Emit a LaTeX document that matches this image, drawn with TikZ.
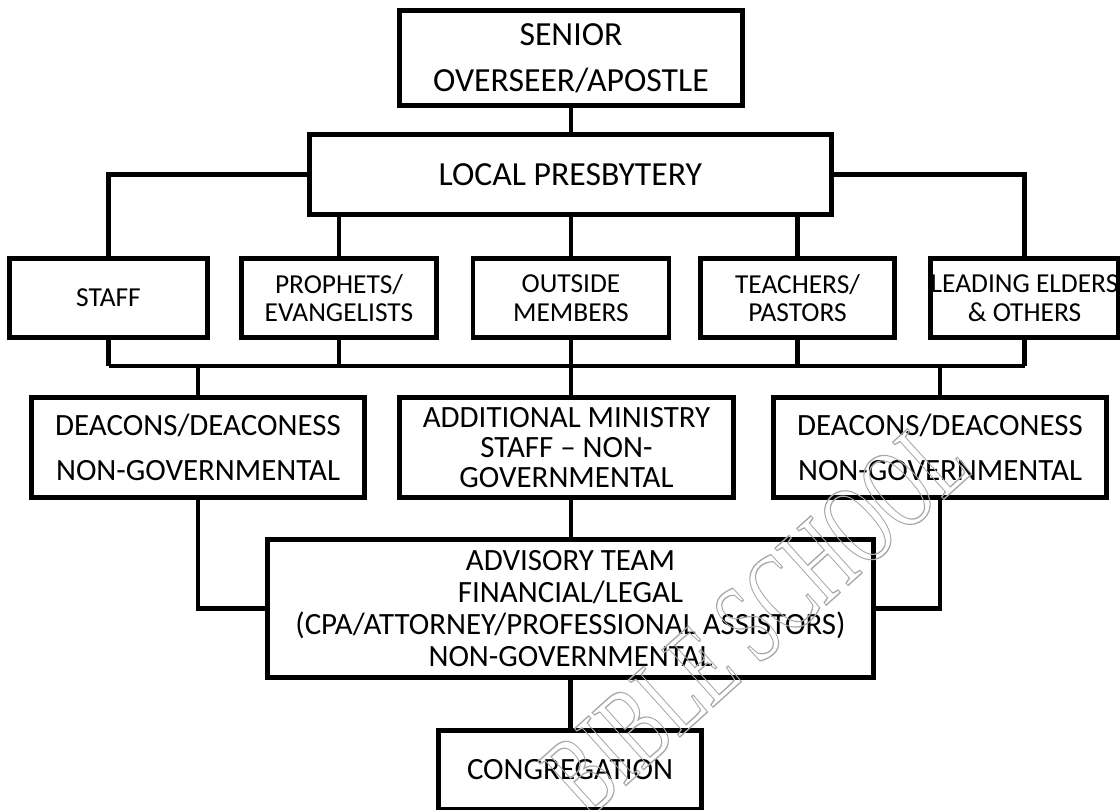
\documentclass[tikz,border=0pt]{standalone}
\usepackage{fontspec}
\setmainfont{Carlito}
\newfontfamily\stampfont{Liberation Serif}
\usepackage{xcolor}
\usepackage{tikz}
\usetikzlibrary{positioning,calc}
\definecolor{inkblack}{HTML}{000000}
\definecolor{stampgray}{HTML}{A8A8A8}
\tikzset{
  orgbox/.style={draw=inkblack, line width=3.5pt, fill=white, align=center, inner sep=0pt},
  headbox/.style={orgbox, font=\fontsize{24}{33}\selectfont, minimum height=20mm},
  unitbox/.style={orgbox, font=\fontsize{19.5}{20.5}\selectfont, minimum height=19.75mm},
  groupbox/.style={orgbox, font=\fontsize{22}{32}\selectfont, minimum height=25mm},
  link/.style={draw=inkblack, line width=3.2pt},
  buslink/.style={draw=inkblack, line width=2.2pt}
}

\begin{document}
\begin{tikzpicture}
  \useasboundingbox (0,0) rectangle (28,20.225);

  \node[headbox, minimum width=85.75mm, minimum height=23.75mm] (senior) at (14.275,18.775) {SENIOR\\OVERSEER/APOSTLE};
  \node[headbox, minimum width=130.5mm] (pres) at (14.26,15.86) {LOCAL PRESBYTERY};

  \node[unitbox, minimum width=49.5mm] (staff) at (2.7125,12.775) {STAFF};
  \node[unitbox, minimum width=48.75mm] (proph) at (8.475,12.775) {PROPHETS/\\EVANGELISTS};
  \node[unitbox, minimum width=49mm] (outside) at (14.275,12.775) {OUTSIDE\\MEMBERS};
  \node[unitbox, minimum width=48.5mm] (teach) at (19.9375,12.775) {TEACHERS/\\PASTORS};
  \node[unitbox, minimum width=46.5mm] (lead) at (25.6125,12.775) {LEADING ELDERS\\\& OTHERS};
  \coordinate (bus) at (14.275,11.075);

  \node[groupbox, minimum width=83.25mm] (ldea) at (4.95,9.0375) {DEACONS/DEACONESS\\NON-GOVERNMENTAL};
  \node[groupbox, minimum width=83.5mm, font=\fontsize{22}{21.5}\selectfont] (add) at (14.1625,9.0375) {ADDITIONAL MINISTRY\\STAFF -- NON-\\GOVERNMENTAL};
  \node[groupbox, minimum width=83.25mm] (rdea) at (23.5,9.0375) {DEACONS/DEACONESS\\NON-GOVERNMENTAL};

  \node[groupbox, minimum width=151.5mm, minimum height=34.5mm, font=\fontsize{22}{22.7}\selectfont] (adv) at (14.2625,5.0125) {ADVISORY TEAM\\FINANCIAL/LEGAL\\(CPA/ATTORNEY/PROFESSIONAL ASSISTORS)\\NON-GOVERNMENTAL};
  \node[groupbox, minimum width=65.75mm, minimum height=19.75mm] (cong) at (14.25,0.975) {CONGREGATION};

  % presbytery to the five groups
  \draw[link] (senior.south) -- (senior.south |- pres.north);
  \draw[link] (pres.west) -| (staff.north);
  \draw[link] (pres.east) -| (lead.north);
  \draw[link] (proph.north) -- (proph.north |- pres.south);
  \draw[link] (outside.north) -- (outside.north |- pres.south);
  \draw[link] (teach.north) -- (teach.north |- pres.south);

  % shared line under the groups
  \draw[link] (staff.south) -- (staff.south |- bus);
  \draw[link] (proph.south) -- (proph.south |- bus);
  \draw[link] (teach.south) -- (teach.south |- bus);
  \draw[link] (lead.south) -- (lead.south |- bus);
  \draw[buslink] (staff.south |- bus) -- (lead.south |- bus);
  \draw[link] (ldea.north |- bus) -- (ldea.north);
  \draw[link] (outside.south) -- (outside.south |- add.north);
  \draw[link] (rdea.north |- bus) -- (rdea.north);

  % down to the advisory team and the congregation
  \draw[link] (ldea.south) |- (adv.west);
  \draw[link] (rdea.south) |- (adv.east);
  \draw[link] (outside.south |- add.south) -- (outside.south |- adv.north);
  \draw[link] (adv.south) -- (adv.south |- cong.north);

  \begin{scope}[shift={(18.9,4.8)}, rotate=42, yscale=1.6]
    \node[stampgray, transform shape, font=\stampfont\fontsize{52}{52}\selectfont] (stamp) at (0,0)
      {\special{pdf:literal direct 1 Tr 0.6 w}BIBLE SCHOOL\special{pdf:literal direct 0 Tr}};
  \end{scope}
\end{tikzpicture}
\end{document}
